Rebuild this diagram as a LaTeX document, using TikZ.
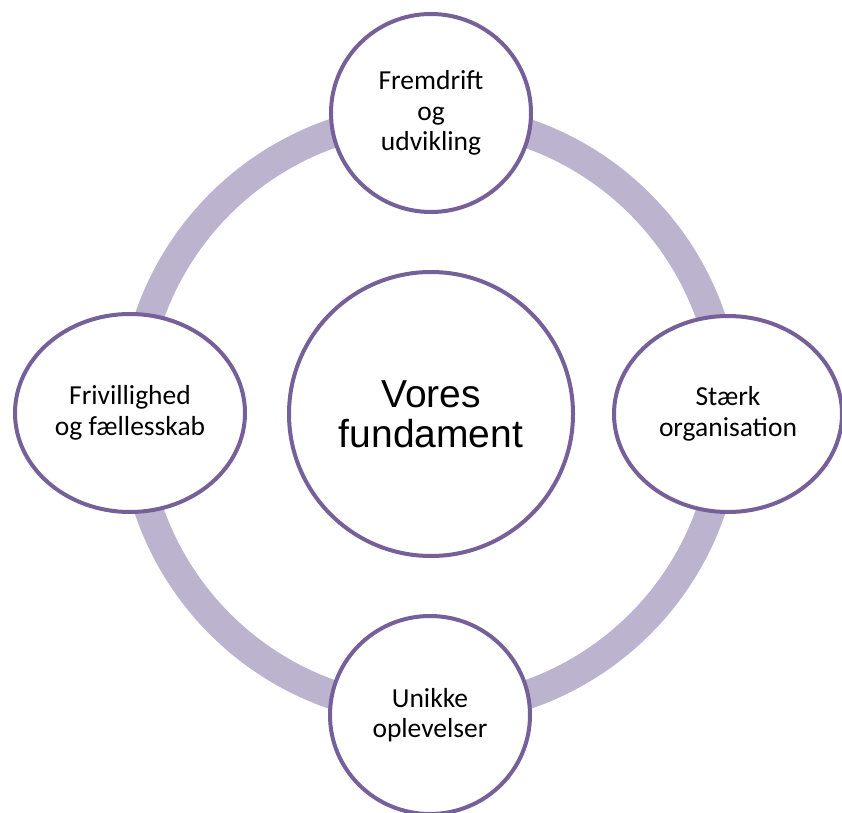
\documentclass[tikz,border=0pt]{standalone}
\usepackage{fontspec}
\setmainfont{Carlito}
\newfontfamily\corefont{Liberation Sans}
\usepackage{xcolor}
\usepackage{tikz}
\usetikzlibrary{shapes.geometric}
\definecolor{ringlila}{HTML}{BCB4CF}
\definecolor{randlila}{HTML}{76609A}

\begin{document}
\begin{tikzpicture}[x=1pt, y=1pt,
    stage/.style={ellipse, draw=randlila, line width=4pt, fill=white, align=center,
                  inner sep=0pt, font=\fontsize{27.5}{30.5}\selectfont},
    core/.style={circle, draw=randlila, line width=4pt, fill=white, align=center,
                 inner sep=0pt, minimum size=284pt, font=\fontsize{39}{40}\selectfont\corefont}]

  \useasboundingbox (0, 0) rectangle (842, 812);

% RING
  \draw[ringlila, line width=29pt] (430, 398) circle (297);

% CENTRE
  \node[core] (fundament) at (431, 398) {Vores\\fundament};

% OUTER STAGES
  \node[stage, minimum width=200pt, minimum height=198pt] (fremdrift) at (431, 699) {Fremdrift\\og\\udvikling};
  \node[stage, minimum width=230pt, minimum height=198pt] (frivillighed) at (130, 399) {Frivillighed\\og fællesskab};
  \node[stage, minimum width=228pt, minimum height=196pt] (staerk) at (728, 398) {Stærk\\organisation};
  \node[stage, minimum width=200pt, minimum height=198pt] (unikke) at (430, 97) {Unikke\\oplevelser};

\end{tikzpicture}
\end{document}
